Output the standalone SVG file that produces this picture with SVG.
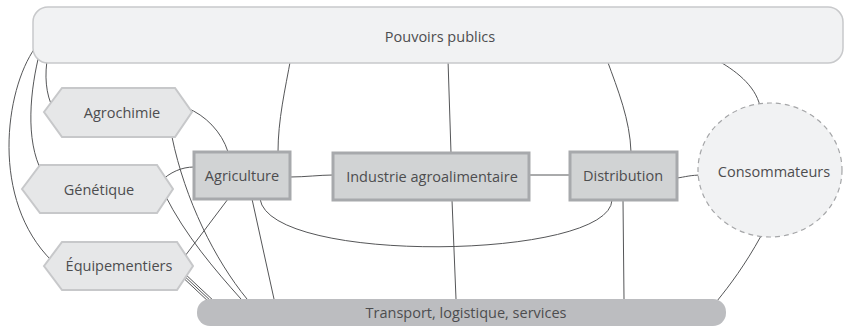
<svg xmlns="http://www.w3.org/2000/svg" width="845" height="327" viewBox="0 0 845 327">
<style>
.t{font-family:"Open Sans","Noto Sans","DejaVu Sans",sans-serif;font-size:14.5px;fill:#4d4d4f;text-anchor:middle;dominant-baseline:central}
.hex{fill:#e6e7e8;stroke:#c7c8ca;stroke-width:2}
.box{fill:#d1d3d4;stroke:#a7a9ac;stroke-width:3}
.c{fill:none;stroke:#555658;stroke-width:1}
</style>
<rect width="845" height="327" fill="#ffffff"/>
<g id="connectors">
<path class="c" d="M35,48 C5,90 -10,200 52,261"/>
<path class="c" d="M40,51 C30,90 25,140 42,172"/>
<path class="c" d="M48,55 C44,75 46,95 53,108"/>
<path class="c" d="M291,57 C285,90 278,120 278,152"/>
<path class="c" d="M448,60 L451,153"/>
<path class="c" d="M607,60 C618,90 630,120 631,152"/>
<path class="c" d="M715,59 C735,70 755,85 760,106"/>
<path class="c" d="M187,108 C205,115 222,132 228,152"/>
<path class="c" d="M160,182 C170,172 182,167 194,167"/>
<path class="c" d="M228,199 L182,260"/>
<path class="c" d="M172,137 C185,200 215,260 247,299"/>
<path class="c" d="M165,195 C185,235 215,270 241,299"/>
<path class="c" d="M178.6,273.5 L211.6,304.5"/>
<path class="c" d="M180,272 L213,303"/>
<path class="c" d="M181.4,270.5 L214.4,301.5"/>
<path class="c" d="M252,199 L274,299"/>
<path class="c" d="M260,199 C270,265 610,260 612,200"/>
<path class="c" d="M452,200 L456,299"/>
<path class="c" d="M623,200 L624,299"/>
<path class="c" d="M290,177 C305,177 320,175 333,175"/>
<path class="c" d="M529,175 L570,175"/>
<path class="c" d="M677,178 C685,177 690,175 703,175"/>
<path class="c" d="M761,236 C745,265 730,285 717,301"/>
</g>
<g id="pouvoirs">
<rect x="33" y="7" width="810" height="56" rx="15" fill="#f1f2f3" stroke="#c8c9cb" stroke-width="1.5"/>
<text class="t" x="440" y="36">Pouvoirs publics</text>
</g>
<g id="agrochimie">
<polygon class="hex" points="44,112 62,88 175,88 192,112 175,137 62,137"/>
<text class="t" x="122" y="112">Agrochimie</text>
</g>
<g id="genetique">
<polygon class="hex" points="22,189 40,165 157,165 173,189 157,213 40,213"/>
<text class="t" x="99" y="189">Génétique</text>
</g>
<g id="equipementiers">
<polygon class="hex" points="44,266 62,242 177,242 193,266 177,290 62,290"/>
<text class="t" x="119" y="265">Équipementiers</text>
</g>
<g id="agriculture">
<rect class="box" x="194" y="152" width="96" height="47"/>
<text class="t" x="242" y="175">Agriculture</text>
</g>
<g id="industrie">
<rect class="box" x="333" y="153" width="196" height="47"/>
<text class="t" x="432" y="176">Industrie agroalimentaire</text>
</g>
<g id="distribution">
<rect class="box" x="570" y="152" width="107" height="48"/>
<text class="t" x="623" y="175">Distribution</text>
</g>
<g id="consommateurs">
<ellipse cx="770" cy="170" rx="72" ry="67" fill="#f1f2f3" stroke="#a5a6a8" stroke-width="1.2" stroke-dasharray="5,4"/>
<text class="t" x="774" y="171">Consommateurs</text>
</g>
<g id="transport">
<rect x="197" y="299" width="529" height="27" rx="13" fill="#bcbdc0"/>
<text class="t" x="466" y="312">Transport, logistique, services</text>
</g>
</svg>
